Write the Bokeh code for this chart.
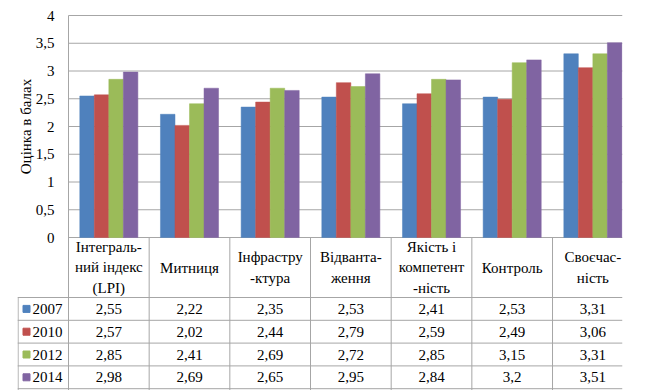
import math
from bokeh.plotting import figure
from bokeh.models import Range1d, ColumnDataSource
from bokeh.core.properties import value
from bokeh.embed import file_html
from bokeh.resources import INLINE

# ---- data ----
categories = ["Інтеграль-\nний індекс\n(LPI)", "Митниця", "Інфрастру\n-ктура",
              "Відванта-\nження", "Якість і\nкомпетент\n-ність", "Контроль",
              "Своєчас-\nність"]
years = ["2007", "2010", "2012", "2014"]
v2007 = [2.55, 2.22, 2.35, 2.53, 2.41, 2.53, 3.31]
v2010 = [2.57, 2.02, 2.44, 2.79, 2.59, 2.49, 3.06]
v2012 = [2.85, 2.41, 2.69, 2.72, 2.85, 3.15, 3.31]
v2014 = [2.98, 2.69, 2.65, 2.95, 2.84, 3.2, 3.51]
y_ticks = [0, 0.5, 1, 1.5, 2, 2.5, 3, 3.5, 4]
y_tick_labels = ["0", "0,5", "1", "1,5", "2", "2,5", "3", "3,5", "4"]
y_title = "Оцінка в балах"

series = [v2007, v2010, v2012, v2014]
colors = ["#4F81BD", "#C0504D", "#9BBB59", "#8064A2"]
offsets = [-0.27, -0.09, 0.09, 0.27]
BAR_W = 0.18

# ---- layout constants (pixels) ----
FONT = "Liberation Serif, Times New Roman, serif"
FS = "15px"
W, H = 647, 390
FRAME_L = 17            # table left edge
FRAME_R = 622           # right cut edge
CAT_PX = 80.67          # px per category
VAL_PX = 55.5           # px per score unit
AXIS_LEFT = 51          # px between table left edge and value axis
PLOT_TOP = 15           # px above value 4
HEAD_H = 60             # header row height
ROW_H = 22.8            # data row height
GRID = "#A6A6A6"

n = len(categories)
x_start = -AXIS_LEFT / CAT_PX
x_end = x_start + (FRAME_R - FRAME_L) / CAT_PX
y_end = 4 + PLOT_TOP / VAL_PX
y_start = y_end - H / VAL_PX
head_y = -HEAD_H / VAL_PX
row_h = ROW_H / VAL_PX

p = figure(width=W, height=H, output_backend="svg", toolbar_location=None,
           x_range=Range1d(x_start, x_end), y_range=Range1d(y_start, y_end),
           x_axis_location=None, y_axis_location=None,
           min_border_left=FRAME_L, min_border_right=W - FRAME_R,
           min_border_top=0, min_border_bottom=0)
p.outline_line_color = None
p.grid.visible = False
p.background_fill_color = "white"
p.border_fill_color = "white"

# value gridlines
p.segment(x0=[0] * len(y_ticks), y0=y_ticks, x1=[x_end] * len(y_ticks), y1=y_ticks,
          line_color=GRID, line_width=1)
# value axis line + table vertical lines
p.segment(x0=[0], y0=[4], x1=[0], y1=[y_start], line_color=GRID, line_width=1)
vx = list(range(1, n))
p.segment(x0=vx, y0=[0] * len(vx), x1=vx, y1=[y_start] * len(vx),
          line_color=GRID, line_width=1)
p.segment(x0=[x_start + 0.6 / CAT_PX], y0=[head_y], x1=[x_start + 0.6 / CAT_PX],
          y1=[y_start], line_color=GRID, line_width=1)
# table horizontal lines
hy = [head_y - k * row_h for k in range(len(years) + 1)]
p.segment(x0=[x_start] * len(hy), y0=hy, x1=[x_end] * len(hy), y1=hy,
          line_color=GRID, line_width=1)

# tick labels and axis title
p.text(x=[-14 / CAT_PX] * len(y_ticks), y=y_ticks, text=y_tick_labels,
       text_font=value(FONT), text_font_size=FS, text_align="right",
       text_baseline="middle", text_color="black")
p.text(x=[-43 / CAT_PX], y=[2], text=[y_title], angle=math.pi / 2,
       text_font=value(FONT), text_font_size=FS, text_align="center",
       text_baseline="middle", text_color="black")

# bars
for vals, col, off in zip(series, colors, offsets):
    src = ColumnDataSource(dict(x=[i + 0.5 + off for i in range(n)], top=vals))
    p.vbar(x="x", top="top", width=BAR_W, bottom=0, source=src,
           fill_color=col, line_color=col, line_width=0.5)

# header
p.text(x=[i + 0.5 for i in range(n)], y=[head_y / 2] * n, text=categories,
       text_font=value(FONT), text_font_size=FS, text_align="center",
       text_baseline="middle", text_line_height=1.3, text_color="black")

# rows
for k, (yr, vals, col) in enumerate(zip(years, series, colors)):
    yc = head_y - (k + 0.5) * row_h
    p.text(x=[i + 0.5 for i in range(n)], y=[yc] * n,
           text=[str(v).replace(".", ",") for v in vals],
           text_font=value(FONT), text_font_size=FS, text_align="center",
           text_baseline="middle", text_color="black")
    p.scatter(x=[x_start + 9 / CAT_PX], y=[yc], marker="square", size=7,
              fill_color=col, line_color=col)
    p.text(x=[x_start + 15 / CAT_PX], y=[yc], text=[yr],
           text_font=value(FONT), text_font_size=FS, text_align="left",
           text_baseline="middle", text_color="black")

open("out.html", "w").write(file_html(p, INLINE))
